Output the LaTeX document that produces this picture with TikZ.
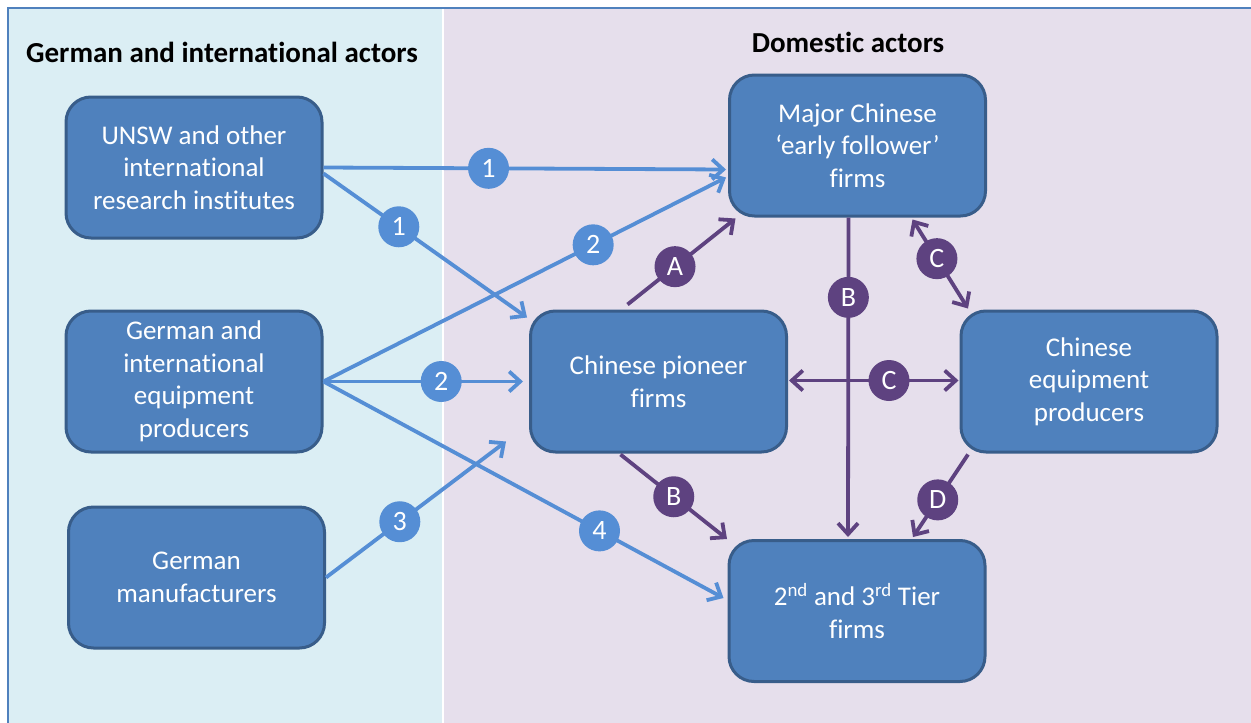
\documentclass[tikz,border=0pt]{standalone}
\usepackage{fontspec}
\setmainfont{Carlito}[Ligatures={NoCommon}]
\usetikzlibrary{arrows.meta,calc}
\definecolor{leftbg}{HTML}{DBEEF4}
\definecolor{rightbg}{HTML}{E6DFEC}
\definecolor{frameblue}{HTML}{4F81BD}
\definecolor{boxfill}{HTML}{4F81BD}
\definecolor{boxline}{HTML}{385D8A}
\definecolor{linkblue}{HTML}{558ED5}
\definecolor{linkpurple}{HTML}{5E4280}
\tikzset{
  actor/.style={draw=boxline, line width=3pt, fill=boxfill, rounded corners=25pt,
    minimum width=256pt, minimum height=141pt, text=white, align=center,
    font=\fontsize{27}{32.5}\selectfont, inner sep=0pt},
  heading/.style={font=\bfseries\fontsize{29}{34}\selectfont, text=black},
  bluelink/.style={draw=linkblue, line width=3.8pt, -{Straight Barb[length=11pt,width=20pt]}},
  purplelink/.style={draw=linkpurple, line width=3.8pt, -{Straight Barb[length=11pt,width=20pt]}},
  purpleboth/.style={draw=linkpurple, line width=3.8pt, {Straight Barb[length=11pt,width=20pt]}-{Straight Barb[length=11pt,width=20pt]}},
  bluetag/.style={circle, fill=linkblue, text=white, minimum size=41pt, inner sep=0pt,
    font=\fontsize{28}{30}\selectfont},
  purpletag/.style={circle, fill=linkpurple, text=white, minimum size=41pt, inner sep=0pt,
    font=\fontsize{28}{30}\selectfont},
}
\begin{document}
\begin{tikzpicture}[x=1pt,y=-1pt]
\useasboundingbox (0,0) rectangle (1251,723);
\fill[white] (0,0) rectangle (1251,723);
\fill[leftbg] (8,8) rectangle (442,723);
\fill[rightbg] (443.5,8) rectangle (1251,723);
\draw[frameblue, line width=1.5pt] (8,723) -- (8,8) -- (1251,8);

\node[heading] (hleft) at (222,52) {German and international actors};
\node[heading] (hright) at (848,42) {Domestic actors};

\node[actor] (unsw) at (194,167.5) {UNSW and other\\international\\research institutes};
\node[actor] (equip) at (194,381.5) {German and\\international\\equipment\\producers};
\node[actor] (manuf) at (196.5,577.5) {German\\manufacturers};
\node[actor] (major) at (857.5,145.5) {Major Chinese\\‘early follower’\\firms};
\node[actor] (pioneer) at (658.5,381.5) {Chinese pioneer\\firms};
\node[actor] (ceq) at (1089,381.5) {Chinese\\equipment\\producers};
\node[actor] (tier) at (857,611) {2\textsuperscript{nd} and 3\textsuperscript{rd} Tier\\firms};

% blue links
\draw[bluelink] (unsw.east) -- ($(major.west)+(-2,24)$) node[bluetag, pos=0.41] (t1a) {1};
\draw[bluelink] ($(unsw.east)+(0,6)$) -- ($(pioneer.west)+(-2,-64)$) node[bluetag, pos=0.37] (t1b) {1};
\draw[bluelink] (equip.east) -- ($(major.west)+(-2,32)$) node[bluetag, pos=0.67] (t2a) {2};
\draw[bluelink] (equip.east) -- ($(pioneer.west)+(-6,0)$) node[bluetag, pos=0.59] (t2b) {2};
\draw[bluelink] (equip.east) -- ($(tier.west)+(-4,-13)$) node[bluetag, pos=0.69] (t4) {4};
\draw[bluelink] (manuf.east) -- ($(pioneer.west)+(-23,60)$) node[bluetag, pos=0.41] (t3) {3};

% purple links
\draw[purplelink] ($(pioneer.north)+(-31,-5)$) -- ($(major.south)+(-122,1)$) node[purpletag, pos=0.44] (tA) {A};
\draw[purplelink] ($(major.south)+(-9,0)$) -- ($(tier.north)+(-9,-2)$) node[purpletag, pos=0.25] (tB1) {B};
\draw[purpleboth] ($(major.south)+(55,2)$) -- ($(ceq.north)+(-121,-1)$) node[purpletag, pos=0.44] (tC1) {C};
\draw[purpleboth] ($(pioneer.east)+(1,-1)$) -- ($(ceq.west)+(-1,-1)$) node[purpletag, pos=0.59] (tC2) {C};
\draw[purplelink] ($(pioneer.south)+(-38,1)$) -- ($(tier.north)+(-130,0)$) node[purpletag, pos=0.5] (tB2) {B};
\draw[purplelink] ($(ceq.south)+(-121,1)$) -- ($(tier.north)+(56,-2)$) node[purpletag, pos=0.55] (tD) {D};
\end{tikzpicture}
\end{document}
